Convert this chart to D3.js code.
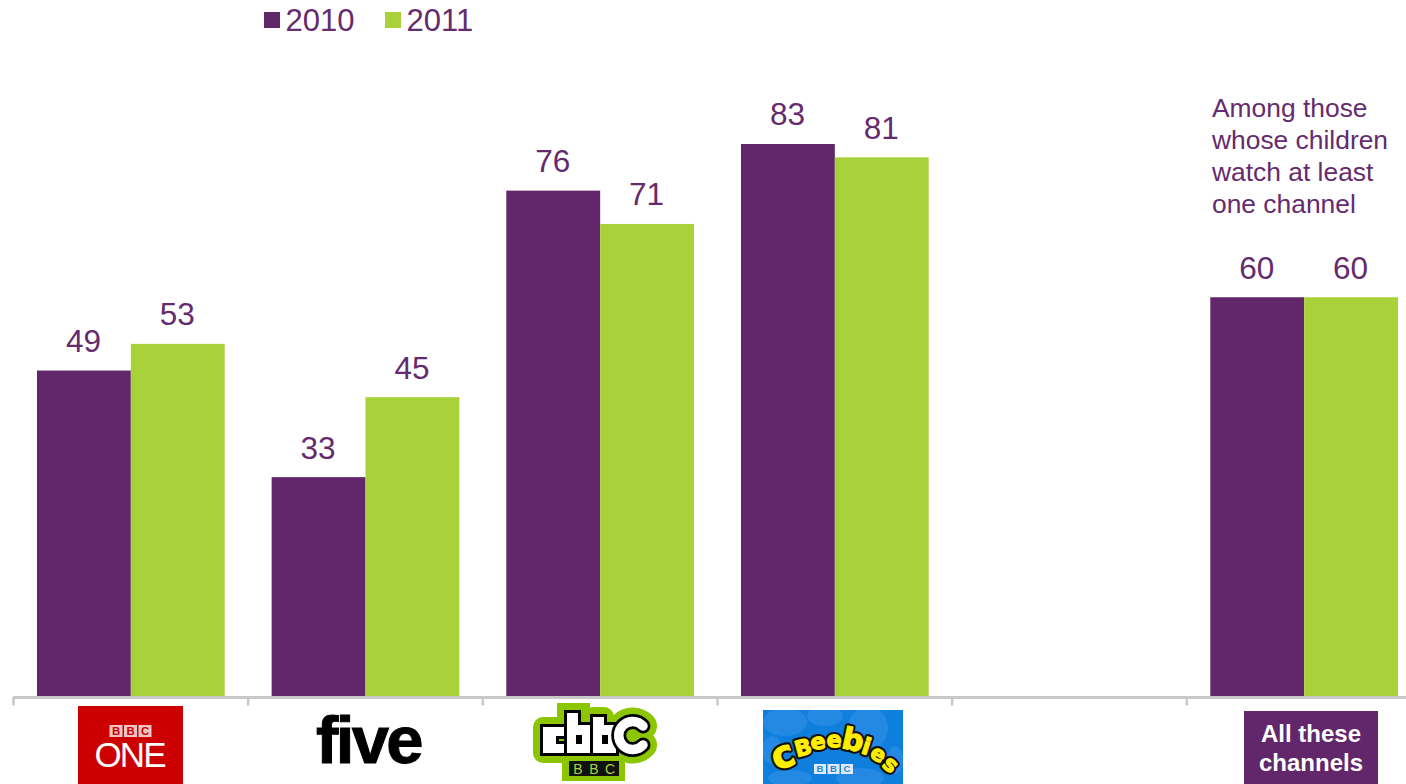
<!DOCTYPE html>
<html>
<head>
<meta charset="utf-8">
<script src="https://cdn.jsdelivr.net/npm/d3@7/dist/d3.min.js"></script>
<style>
  html, body { margin: 0; padding: 0; background: #fff; overflow: hidden; }
  text { font-family: "Liberation Sans", Arial, sans-serif; }
</style>
</head>
<body>
<svg id="chart" width="1406" height="784"></svg>
<script>
// Share of children watching each channel, by survey year
const channels = ["BBC One", "five", "CBBC", "CBeebies", "gap", "All these channels"];
const years = ["2010", "2011"];
const values2010 = [49, 33, 76, 83, null, 60];
const values2011 = [53, 45, 71, 81, null, 60];
const noteLines = ["Among those", "whose children", "watch at least", "one channel"];

const purple = "#62276a", green = "#a9d139", ink = "#652b6e", axisGrey = "#c8c8c8";
const svg = d3.select("#chart");

const x = d3.scaleBand().domain(channels).range([13.5, 1421.5]).paddingInner(0).paddingOuter(0);
const xInner = d3.scaleBand().domain(years).range([x.bandwidth() * 0.1, x.bandwidth() * 0.9]);
const y = d3.scaleLinear().domain([0, 83]).range([697, 144]);
const colour = d3.scaleOrdinal().domain(years).range([purple, green]);

// Bars and value labels
const series = [{ year: "2010", vals: values2010 }, { year: "2011", vals: values2011 }];
series.forEach(s => {
  const rows = channels.map((c, i) => ({ c, v: s.vals[i] })).filter(d => d.v !== null);
  svg.append("g").selectAll("rect").data(rows).join("rect")
    .attr("x", d => x(d.c) + xInner(s.year))
    .attr("y", d => y(d.v))
    .attr("width", xInner.bandwidth())
    .attr("height", d => y(0) - y(d.v))
    .attr("fill", colour(s.year));
  svg.append("g").selectAll("text").data(rows).join("text")
    .attr("x", d => x(d.c) + xInner(s.year) + xInner.bandwidth() / 2 - 0.5)
    .attr("y", d => y(d.v) - 18.6)
    .attr("text-anchor", "middle")
    .attr("font-size", 31.5)
    .attr("fill", ink)
    .text(d => d.v);
});

// Category axis: the ticks sit on band edges
const edges = channels.map(c => x(c));
const axisG = svg.append("g");
axisG.append("line").attr("x1", 13).attr("x2", 1406).attr("y1", 697.5).attr("y2", 697.5)
  .attr("stroke", axisGrey).attr("stroke-width", 3);
axisG.selectAll("line.tick").data(edges).join("line").attr("class", "tick")
  .attr("x1", d => d).attr("x2", d => d).attr("y1", 697).attr("y2", 705.5)
  .attr("stroke", axisGrey).attr("stroke-width", 2.5);

// Legend
const legend = svg.append("g");
[["2010", 264, 285.5], ["2011", 385, 406.5]].forEach(([yr, sx, tx]) => {
  legend.append("rect").attr("x", sx).attr("y", 12).attr("width", 16).attr("height", 16).attr("fill", colour(yr));
  legend.append("text").attr("x", tx).attr("y", 31).attr("font-size", 31).attr("fill", ink).text(yr);
});

// Note above the last group
svg.append("g").selectAll("text").data(noteLines).join("text")
  .attr("x", 1212).attr("y", (d, i) => 117 + i * 32)
  .attr("font-size", 26.4).attr("fill", ink).text(d => d);

// Channel badges under the axis
function bbcBlocks(g, cx, top, h, w, fill, letter) {
  ["B", "B", "C"].forEach((l, i) => {
    const bx = cx + (i - 1) * (w + 1.5);
    g.append("rect").attr("x", bx - w / 2).attr("y", top).attr("width", w).attr("height", h).attr("fill", fill);
    g.append("text").attr("x", bx).attr("y", top + h * 0.82).attr("text-anchor", "middle")
      .attr("font-size", h * 0.95).attr("font-weight", 700).attr("fill", letter).text(l);
  });
}

// BBC One
const one = svg.append("g");
one.append("rect").attr("x", 78).attr("y", 706).attr("width", 105).attr("height", 78).attr("fill", "#cc0000");
bbcBlocks(one, 130.5, 725, 12, 13, "#f0c4c4", "#cc0000");
one.append("text").attr("x", 130.5).attr("y", 766.5).attr("text-anchor", "middle")
  .attr("font-size", 35).attr("fill", "#fff").attr("textLength", 72).text("ONE");

// five
svg.append("text").attr("x", 368.5).attr("y", 763).attr("text-anchor", "middle")
  .attr("font-size", 67).attr("font-weight", 700).attr("letter-spacing", -2.6)
  .attr("stroke", "#000").attr("stroke-width", 1).attr("fill", "#000").text("five");

// CBBC: block letters inside a green halo
const cb = svg.append("g");
const cbGreen = "#8cc600";
const blockLetters = [
  "M543 727 H565 V736 H556 V744 H565 V753 H543 Z",
  "M567 713 H578 V725 H591 V753 H567 Z",
  "M593 717 H604 V725 H616 V753 H593 Z"
];
const curlyC = "M643 726 A14 14 0 1 0 643 745";
cb.append("rect").attr("x", 557).attr("y", 703).attr("width", 33).attr("height", 20).attr("fill", cbGreen);
cb.append("rect").attr("x", 562).attr("y", 755).attr("width", 63).attr("height", 26).attr("fill", cbGreen);
cb.selectAll("path.halo").data(blockLetters).join("path").attr("class", "halo").attr("d", d => d)
  .attr("fill", cbGreen).attr("stroke", cbGreen).attr("stroke-width", 20).attr("stroke-linejoin", "round");
cb.append("path").attr("d", curlyC).attr("fill", cbGreen).attr("stroke", cbGreen).attr("stroke-width", 28).attr("stroke-linecap", "round");
cb.selectAll("path.letter").data(blockLetters).join("path").attr("class", "letter").attr("d", d => d)
  .attr("fill", "#fff").attr("stroke", "#000").attr("stroke-width", 6).attr("paint-order", "stroke");
cb.append("path").attr("d", curlyC).attr("fill", "none").attr("stroke", "#000").attr("stroke-width", 15).attr("stroke-linecap", "round");
cb.append("path").attr("d", curlyC).attr("fill", "none").attr("stroke", "#fff").attr("stroke-width", 9.5).attr("stroke-linecap", "round");
[[576, 735], [602, 735]].forEach(([cx0, cy0]) =>
  cb.append("rect").attr("x", cx0).attr("y", cy0).attr("width", 6).attr("height", 9).attr("fill", "#000"));
cb.append("rect").attr("x", 569).attr("y", 761).attr("width", 50).attr("height", 15).attr("fill", "#111");
["B", "B", "C"].forEach((l, i) => cb.append("text").attr("x", 578 + i * 16).attr("y", 774)
  .attr("text-anchor", "middle").attr("font-size", 14).attr("fill", "#a5d63a").text(l));

// CBeebies: blue card with soft blobs and an arc of yellow letters
const cbee = svg.append("g");
svg.append("clipPath").attr("id", "beeClip").append("rect")
  .attr("x", 763).attr("y", 710).attr("width", 140).attr("height", 74);
cbee.append("rect").attr("x", 763).attr("y", 710).attr("width", 140).attr("height", 74).attr("fill", "#0f7fdd");
const blobs = cbee.append("g").attr("clip-path", "url(#beeClip)");
[[785, 722, 22, 14], [825, 716, 18, 10], [868, 728, 20, 22], [772, 750, 10, 14], [790, 778, 22, 8], [860, 778, 24, 10], [895, 760, 8, 14]].forEach(b =>
  blobs.append("ellipse").attr("cx", b[0]).attr("cy", b[1]).attr("rx", b[2]).attr("ry", b[3]).attr("fill", "#2489e2"));
const beeLetters = [["c", 787, 767, -20, 38], ["B", 805, 755, -15, 22], ["e", 819, 749, -8, 22], ["e", 834, 747, 2, 22],
  ["b", 851, 750, 12, 30], ["i", 864, 754, 18, 23], ["e", 875, 760, 30, 21], ["s", 886, 770, 40, 22]];
[["#111", 5.5], ["#ffee00", 1.2]].forEach(([stroke, sw]) => {
  beeLetters.forEach(([l, lx, ly, r, fs]) => {
    cbee.append("text").attr("transform", `translate(${lx},${ly}) rotate(${r})`).attr("text-anchor", "middle")
      .style("font-family", "DejaVu Sans").attr("font-size", fs).attr("font-weight", 700).attr("fill", "#ffee00")
      .attr("stroke", stroke).attr("stroke-width", sw).attr("stroke-linejoin", "round").text(l);
  });
});
bbcBlocks(cbee, 833.5, 764, 10, 12, "#dfeaf8", "#2a80d0");

// All these channels
const all = svg.append("g");
all.append("rect").attr("x", 1244).attr("y", 711).attr("width", 134).attr("height", 73).attr("fill", purple);
["All these", "channels"].forEach((t, i) => all.append("text").attr("x", 1311).attr("y", 742 + i * 29)
  .attr("text-anchor", "middle").attr("font-size", 24).attr("font-weight", 700).attr("fill", "#fff").text(t));
</script>
</body>
</html>
